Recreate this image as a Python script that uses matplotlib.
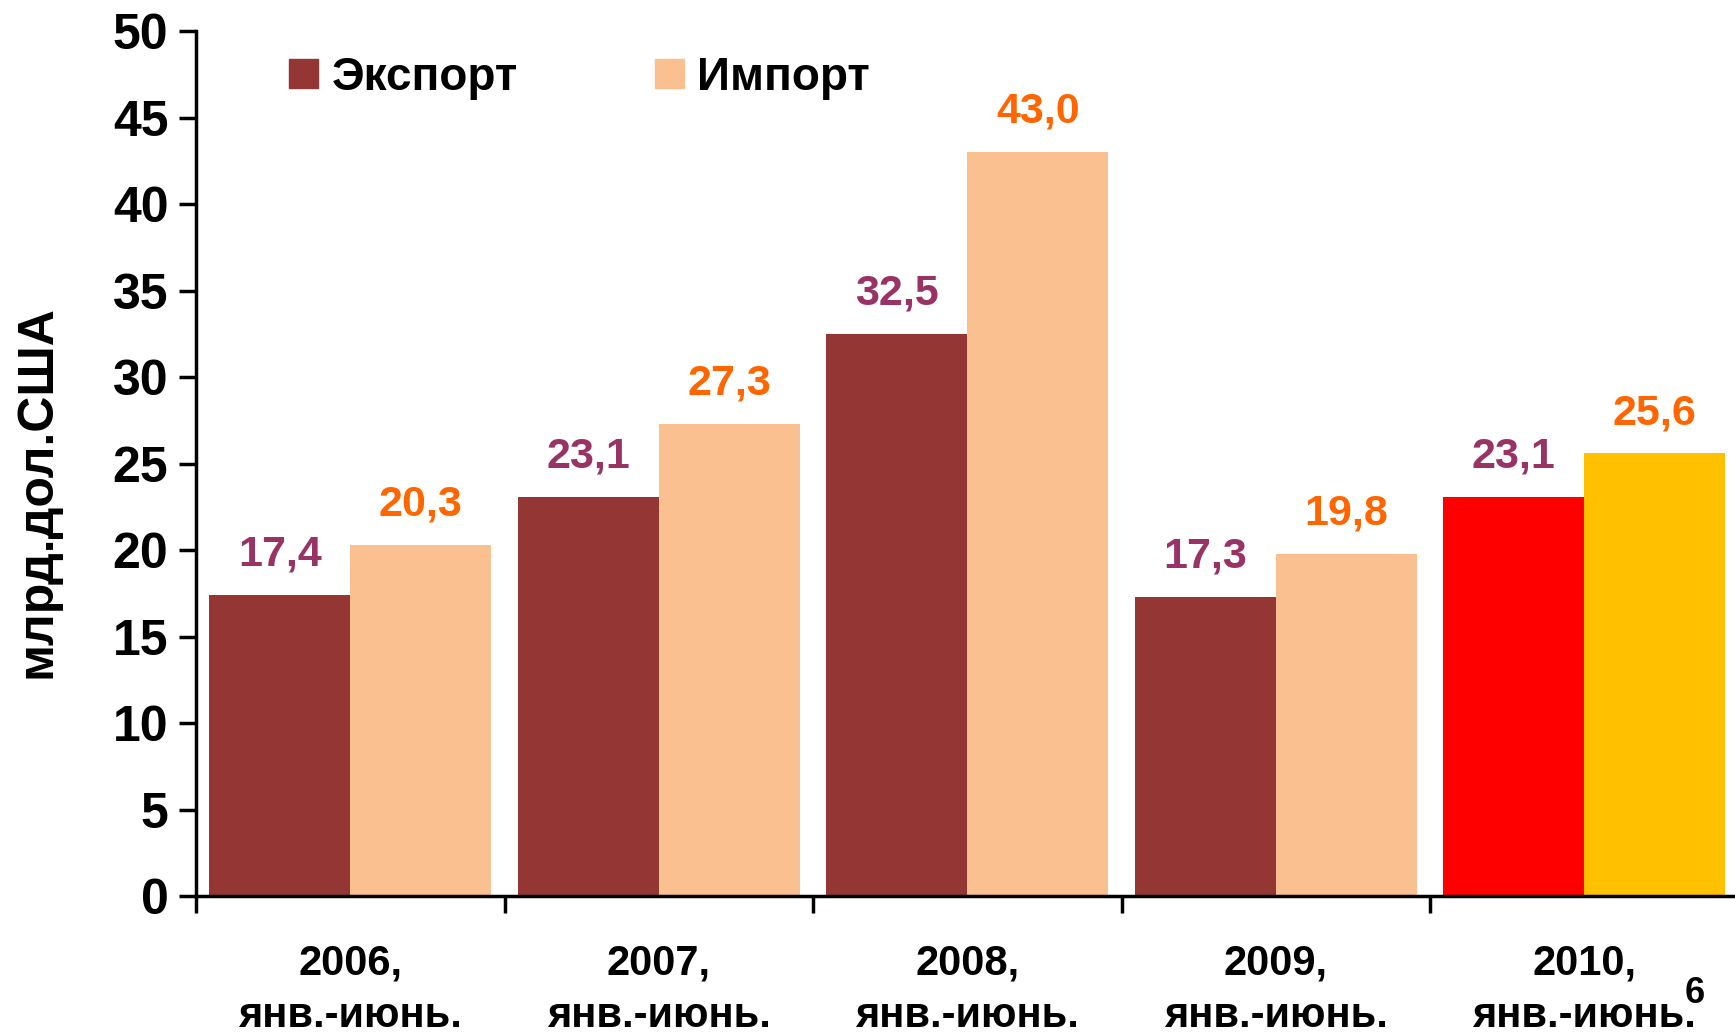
import matplotlib
matplotlib.use("Agg")
import matplotlib.pyplot as plt
from matplotlib.patches import Patch
import numpy as np

plt.rcParams['font.family'] = ['Liberation Sans', 'DejaVu Sans']
plt.rcParams['font.weight'] = 'bold'

years = ["2006,", "2007,", "2008,", "2009,", "2010,"]
period = "янв.-июнь."
export_vals = [17.4, 23.1, 32.5, 17.3, 23.1]
import_vals = [20.3, 27.3, 43.0, 19.8, 25.6]
export_labels = ["17,4", "23,1", "32,5", "17,3", "23,1"]
import_labels = ["20,3", "27,3", "43,0", "19,8", "25,6"]
yticks = [0, 5, 10, 15, 20, 25, 30, 35, 40, 45, 50]

c_exp = "#943634"
c_imp = "#FAC090"
c_exp_last = "#FF0000"
c_imp_last = "#FFC000"
lbl_exp = "#993366"
lbl_imp = "#FF6600"

fig = plt.figure(figsize=(17.35, 10.35), dpi=100)
ax = fig.add_axes([0.113, 0.134, 0.889, 0.836])

n = len(years)
x = np.arange(n)
w = 0.457
exp_colors = [c_exp] * (n - 1) + [c_exp_last]
imp_colors = [c_imp] * (n - 1) + [c_imp_last]
ax.bar(x - w / 2, export_vals, w, color=exp_colors, linewidth=0)
ax.bar(x + w / 2, import_vals, w, color=imp_colors, linewidth=0)

for xi, v, t in zip(x, export_vals, export_labels):
    ax.annotate(t, (xi - w / 2, v), xytext=(0, 29), textcoords='offset points',
                ha='center', va='center', fontsize=31, fontweight='bold', color=lbl_exp)
for xi, v, t in zip(x, import_vals, import_labels):
    ax.annotate(t, (xi + w / 2, v), xytext=(0, 29), textcoords='offset points',
                ha='center', va='center', fontsize=31, fontweight='bold', color=lbl_imp)

ax.set_xlim(-0.5, n - 0.5)
ax.set_ylim(0, 50)
ax.set_yticks(yticks)
ax.set_yticklabels([str(t) for t in yticks], fontsize=36, fontweight='bold')

ax.set_xticks(np.arange(-0.5, n - 0.5, 1.0))
ax.set_xticklabels([])
ax.set_xticks(x, minor=True)
ax.set_xticklabels([f"{y}\n{period}" for y in years], minor=True,
                   fontsize=30, fontweight='bold', linespacing=1.4)
ax.tick_params(axis='x', which='minor', length=0, pad=34)
ax.tick_params(axis='x', which='major', length=12, width=2.5, direction='out')
ax.tick_params(axis='y', length=12, width=2.5, direction='out', pad=8)

for s in ['top', 'right']:
    ax.spines[s].set_visible(False)
for s in ['left', 'bottom']:
    ax.spines[s].set_linewidth(2.5)

ax.set_ylabel("млрд.дол.США", fontsize=36, fontweight='bold')
ax.yaxis.set_label_coords(-0.088, 0.468)

handles = [Patch(color=c_exp, label="Экспорт"), Patch(color=c_imp, label="Импорт")]
fig.legend(handles=handles, loc='center left', bbox_to_anchor=(0.143, 0.925),
           ncol=2, frameon=False, handlelength=0.62, handleheight=0.62,
           handletextpad=0.3, columnspacing=3.0, prop={'weight': 'bold', 'size': 33})

fig.text(0.977, 0.040, "6", fontsize=26, fontweight='bold', ha='center', va='center')

fig.savefig("out.png", dpi=100)
